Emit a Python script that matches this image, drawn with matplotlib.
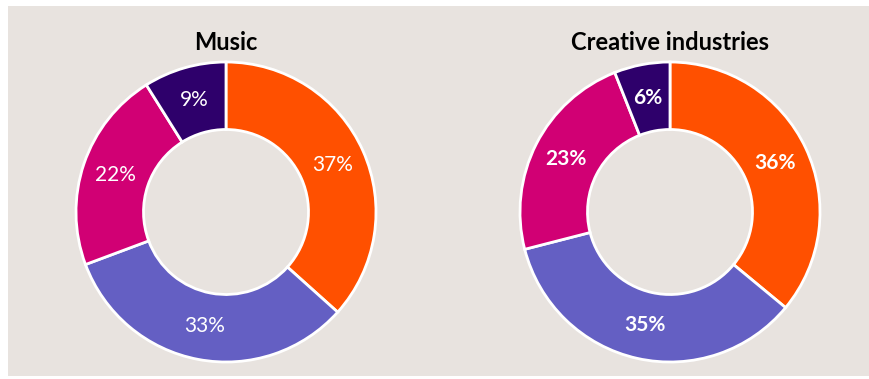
import matplotlib
matplotlib.use("Agg")
import matplotlib.pyplot as plt
from matplotlib.patches import Rectangle

# Share of workforce by category
titles = ["Music", "Creative industries"]
music_values = [37, 33, 22, 9]
creative_values = [36, 35, 23, 6]
colors = ["#FF5000", "#645FC3", "#D10074", "#2E006B"]

W, H = 870, 379
fig = plt.figure(figsize=(W / 100, H / 100), dpi=100, facecolor="white")
ax = fig.add_axes([0, 0, 1, 1])
ax.set_xlim(0, W)
ax.set_ylim(0, H)
ax.set_aspect("equal")
ax.axis("off")

# Panel background
ax.add_patch(Rectangle((8, 3), W - 8, H - 9, facecolor="#E8E3DF", edgecolor="none", zorder=0))

font = ["Lato", "DejaVu Sans"]
radius = 150
width = 0.45
centers = [(226, 167), (670, 167)]
weights = ["normal", "bold"]

for title, values, center, weight in zip(titles, [music_values, creative_values], centers, weights):
    wedges, texts = ax.pie(
        values,
        colors=colors,
        startangle=90,
        counterclock=False,
        center=center,
        radius=radius,
        labels=[f"{v}%" for v in values],
        labeldistance=(1 - width / 2),
        wedgeprops=dict(width=radius * width, edgecolor="white", linewidth=2.0),
        textprops=dict(color="white", fontsize=15, fontweight=weight, family=font,
                       ha="center", va="center"),
        frame=True,
    )
    for t in texts:
        t.set_ha("center")
        t.set_va("center")
    ax.text(center[0], H - 42, title, ha="center", va="center", fontsize=17,
            fontweight="bold", family=font, color="black")

ax.set_xlim(0, W)
ax.set_ylim(0, H)
ax.axis("off")
fig.savefig("out.png", dpi=100, facecolor="white")
